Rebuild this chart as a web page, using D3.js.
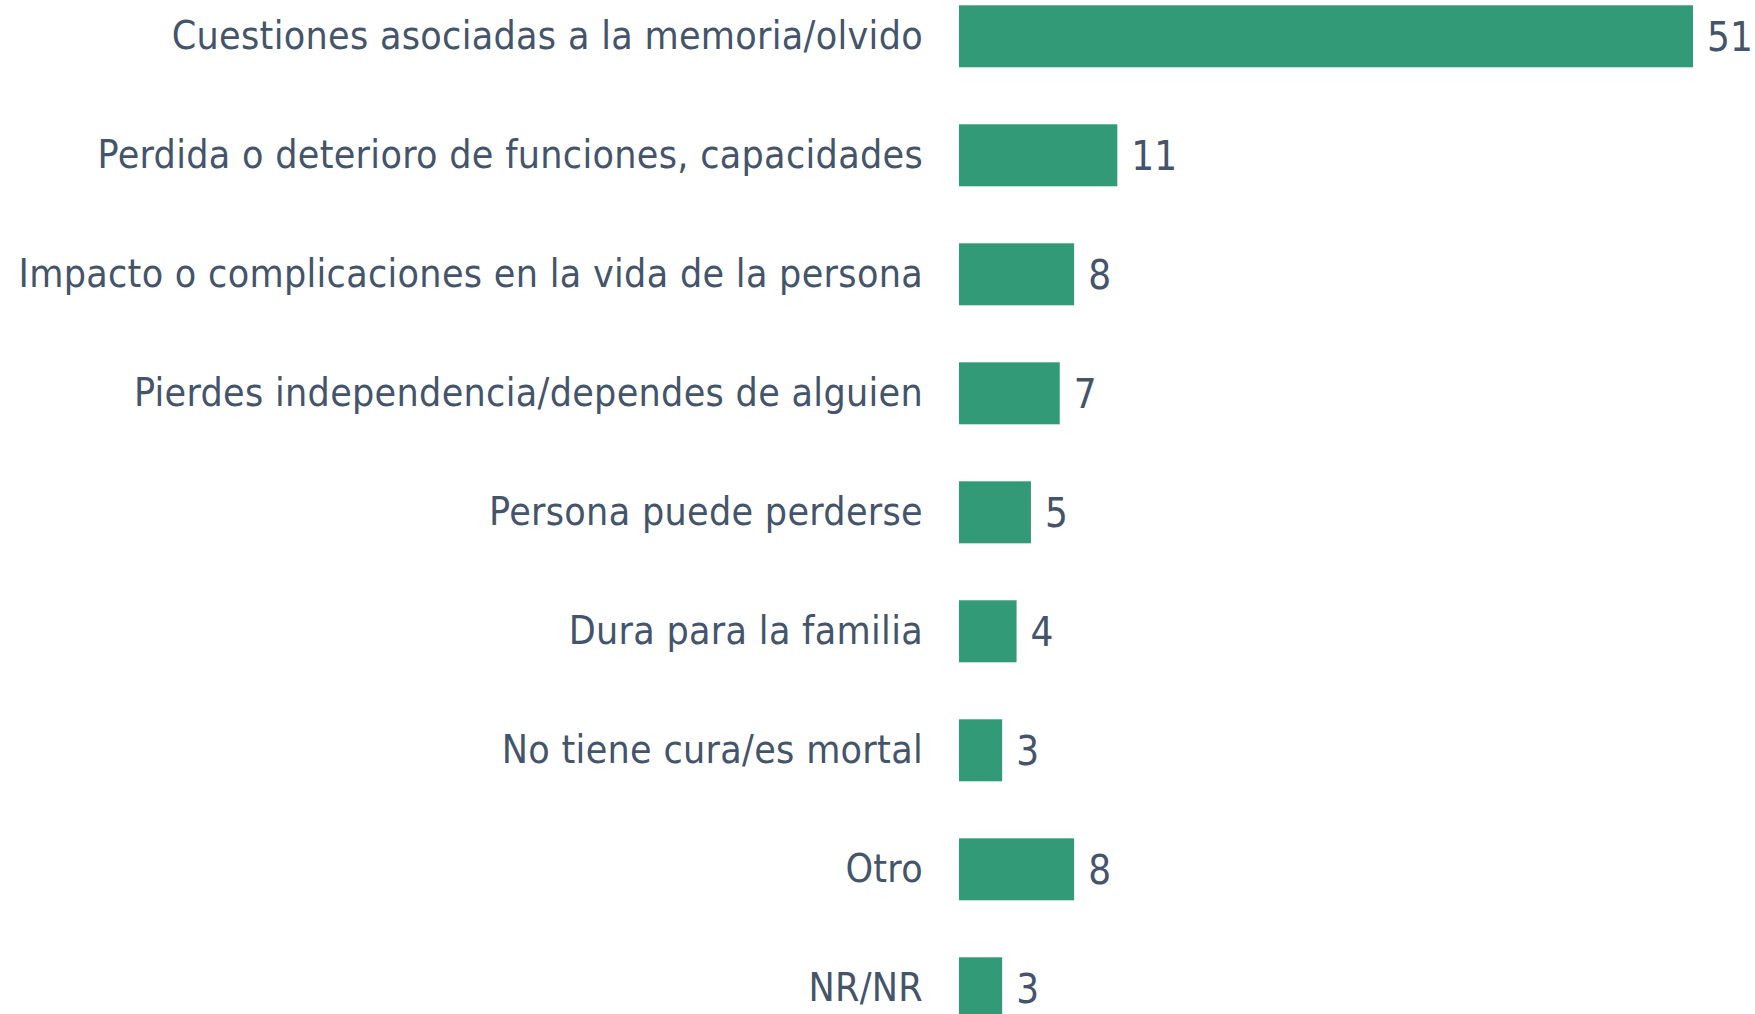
<!DOCTYPE html>
<html>
<head>
<meta charset="utf-8">
<script src="https://cdn.jsdelivr.net/npm/d3@7"></script>
<style>
  html, body { margin: 0; padding: 0; background: #ffffff; }
  svg { display: block; }
</style>
</head>
<body>
<svg id="chart" width="1755" height="1014"></svg>
<script>
const categories = [
  "Cuestiones asociadas a la memoria/olvido",
  "Perdida o deterioro de funciones, capacidades",
  "Impacto o complicaciones en la vida de la persona",
  "Pierdes independencia/dependes de alguien",
  "Persona puede perderse",
  "Dura para la familia",
  "No tiene cura/es mortal",
  "Otro",
  "NR/NR"
];
const values = [51, 11, 8, 7, 5, 4, 3, 8, 3];

const W = 1755, H = 1014;
const barColor = "#339A78";
const textColor = "#44546A";
const fontFamily = "'DejaVu Sans Condensed', 'DejaVu Sans', sans-serif";

const svg = d3.select("#chart");

const x = d3.scaleLinear().domain([0, 51]).range([959, 1693]);
const y = d3.scaleBand().domain(categories).range([5.3, 5.3 + 8 * 119 + 62]).paddingInner(0.479).paddingOuter(0);

svg.append("g").selectAll("rect")
  .data(categories)
  .join("rect")
  .attr("x", x(0))
  .attr("y", d => y(d))
  .attr("width", (d, i) => x(values[i]) - x(0))
  .attr("height", y.bandwidth())
  .attr("fill", barColor);

svg.append("g").selectAll("text")
  .data(categories)
  .join("text")
  .attr("x", 923)
  .attr("y", d => y(d) + y.bandwidth() / 2 + 13)
  .attr("text-anchor", "end")
  .attr("font-family", fontFamily)
  .attr("font-size", 39)
  .attr("letter-spacing", 0.3)
  .attr("fill", textColor)
  .text(d => d);

svg.append("g").selectAll("text")
  .data(categories)
  .join("text")
  .attr("x", (d, i) => x(values[i]) + 14)
  .attr("y", d => y(d) + y.bandwidth() / 2 + 15)
  .attr("text-anchor", "start")
  .attr("font-family", fontFamily)
  .attr("font-size", 40)
  .attr("fill", textColor)
  .text((d, i) => values[i]);
</script>
</body>
</html>
